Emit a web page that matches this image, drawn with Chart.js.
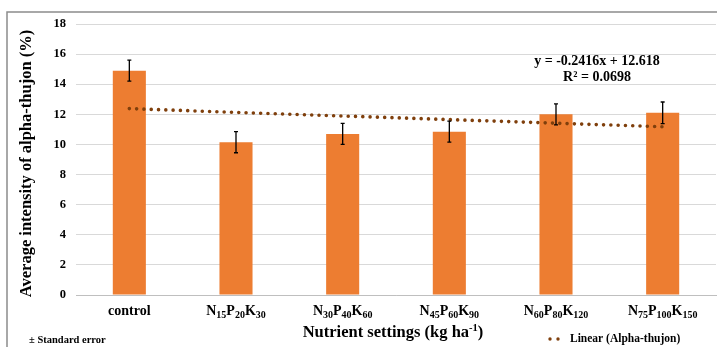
<!DOCTYPE html>
<html>
<head>
<meta charset="utf-8">
<script src="https://cdn.jsdelivr.net/npm/chart.js@4.4.1/dist/chart.umd.min.js"></script>
<style>
    html, body { margin: 0; padding: 0; background: #fff; overflow: hidden; }
    #wrap { position: relative; width: 717px; height: 347px; }
</style>
</head>
<body>
<div id="wrap"><canvas id="thujonChart" width="717" height="347"></canvas></div>
<script>
/* ==========================================================================
   Alpha-thujon intensity by nutrient setting — bars + SE + linear trend
   ========================================================================== */

const categories = ['control', 'N15P20K30', 'N30P40K60', 'N45P60K90', 'N60P80K120', 'N75P100K150'];
const thujonValues = [14.9, 10.15, 10.7, 10.85, 12.0, 12.1];
const stdErrors = [0.7, 0.7, 0.7, 0.7, 0.7, 0.72];
const trendValues = [12.38, 12.13, 11.89, 11.65, 11.41, 11.17];
const yTicks = [0, 2, 4, 6, 8, 10, 12, 14, 16, 18];

const SERIF = '"Liberation Serif", "Times New Roman", serif';
const BAR_ORANGE = '#ED7D31';
const TREND_BROWN = '#7F3F0C';

// Frame + free text that Excel puts around the plot
const decorPlugin = {
    id: 'decor',
    beforeDraw(chart) {
        const ctx = chart.ctx;
        ctx.save();
        ctx.strokeStyle = '#8c8c8c';
        ctx.lineWidth = 1.5;
        ctx.strokeRect(7, 12, 900, 500);
        ctx.restore();
    },
    afterDraw(chart) {
        const ctx = chart.ctx;
        const area = chart.chartArea;
        ctx.save();
        ctx.fillStyle = '#000';
        ctx.textBaseline = 'middle';

        // y title
        ctx.save();
        ctx.translate(27, (area.top + area.bottom) / 2 + 4);
        ctx.rotate(-Math.PI / 2);
        ctx.textAlign = 'center';
        ctx.font = `bold 16.5px ${SERIF}`;
        ctx.fillText('Average intensity of alpha-thujon (%)', 0, 0);
        ctx.restore();

        // x title with superscript
        drawRuns(ctx, [['Nutrient settings (kg ha', 16.5, 0], ['-1', 10.5, -5], [')', 16.5, 0]],
            (area.left + area.right) / 2 - 3, 333);

        // equation of trend
        ctx.textAlign = 'center';
        ctx.font = `bold 14px ${SERIF}`;
        ctx.fillText('y = -0.2416x + 12.618', 597, 61);
        ctx.fillText('R² = 0.0698', 597, 77);

        // footnotes
        ctx.textAlign = 'left';
        ctx.font = `bold 10.5px ${SERIF}`;
        ctx.fillText('± Standard error', 29, 340);
        ctx.font = `bold 11.5px ${SERIF}`;
        ctx.fillText('Linear (Alpha-thujon)', 570, 339);
        ctx.fillStyle = TREND_BROWN;
        [550, 558].forEach(x => {
            ctx.beginPath();
            ctx.arc(x, 339, 1.7, 0, Math.PI * 2);
            ctx.fill();
        });

        // category labels with subscripts
        const xs = chart.scales.x;
        ctx.fillStyle = '#000';
        categories.forEach((label, i) => {
            const runs = [];
            const parts = label.match(/[A-Za-z]+|\d+/g);
            parts.forEach(p => {
                if (/^\d+$/.test(p)) runs.push([p, 10, 4]);
                else runs.push([p, 14, 0]);
            });
            drawRuns(ctx, runs, xs.getPixelForValue(i), 311);
        });
        ctx.restore();
    }
};

function drawRuns(ctx, runs, cx, cy) {
    let total = 0;
    runs.forEach(r => {
        ctx.font = `bold ${r[1]}px ${SERIF}`;
        total += ctx.measureText(r[0]).width;
    });
    let x = cx - total / 2;
    ctx.textAlign = 'left';
    ctx.textBaseline = 'middle';
    runs.forEach(r => {
        ctx.font = `bold ${r[1]}px ${SERIF}`;
        ctx.fillText(r[0], x, cy + r[2]);
        x += ctx.measureText(r[0]).width;
    });
}

// Standard error whiskers on each bar
const errorBarPlugin = {
    id: 'errorBars',
    afterDatasetsDraw(chart) {
        const ctx = chart.ctx;
        const xs = chart.scales.x, ys = chart.scales.y;
        ctx.save();
        ctx.strokeStyle = '#000';
        ctx.lineWidth = 1.3;
        thujonValues.forEach((v, i) => {
            const x = xs.getPixelForValue(i);
            const top = ys.getPixelForValue(v + stdErrors[i]);
            const bot = ys.getPixelForValue(v - stdErrors[i]);
            ctx.beginPath();
            ctx.moveTo(x, top); ctx.lineTo(x, bot);
            ctx.moveTo(x - 2, top); ctx.lineTo(x + 2, top);
            ctx.moveTo(x - 2, bot); ctx.lineTo(x + 2, bot);
            ctx.stroke();
        });
        ctx.restore();
    }
};

new Chart(document.getElementById('thujonChart'), {
    data: {
        labels: categories,
        datasets: [{
            type: 'line',
            label: 'Linear (Alpha-thujon)',
            data: trendValues,
            borderColor: TREND_BROWN,
            borderWidth: 3.6,
            borderDash: [0, 7.3],
            borderCapStyle: 'round',
            pointRadius: 0,
            fill: false,
            order: 0
        }, {
            type: 'bar',
            label: 'Alpha-thujon',
            data: thujonValues,
            backgroundColor: BAR_ORANGE,
            categoryPercentage: 1,
            barPercentage: 0.31,
            order: 1
        }]
    },
    options: {
        responsive: false,
        animation: false,
        layout: { padding: { left: 0, top: 24, right: 1, bottom: 52 } },
        plugins: { legend: { display: false }, tooltip: { enabled: false } },
        scales: {
            x: {
                grid: { display: false },
                border: { display: true, color: '#bfbfbf', width: 1 },
                ticks: { display: false },
                afterFit: s => { s.height = 0; }
            },
            y: {
                min: 0,
                max: 18,
                afterBuildTicks: s => { s.ticks = yTicks.map(v => ({ value: v })); },
                grid: { color: '#d9d9d9', lineWidth: 1, drawTicks: false },
                border: { display: false },
                ticks: { padding: 10, color: '#000', font: { family: SERIF, size: 12.5, weight: 'bold' } },
                afterFit: s => { s.width = 76; }
            }
        }
    },
    plugins: [decorPlugin, errorBarPlugin]
});
</script>
</body>
</html>
